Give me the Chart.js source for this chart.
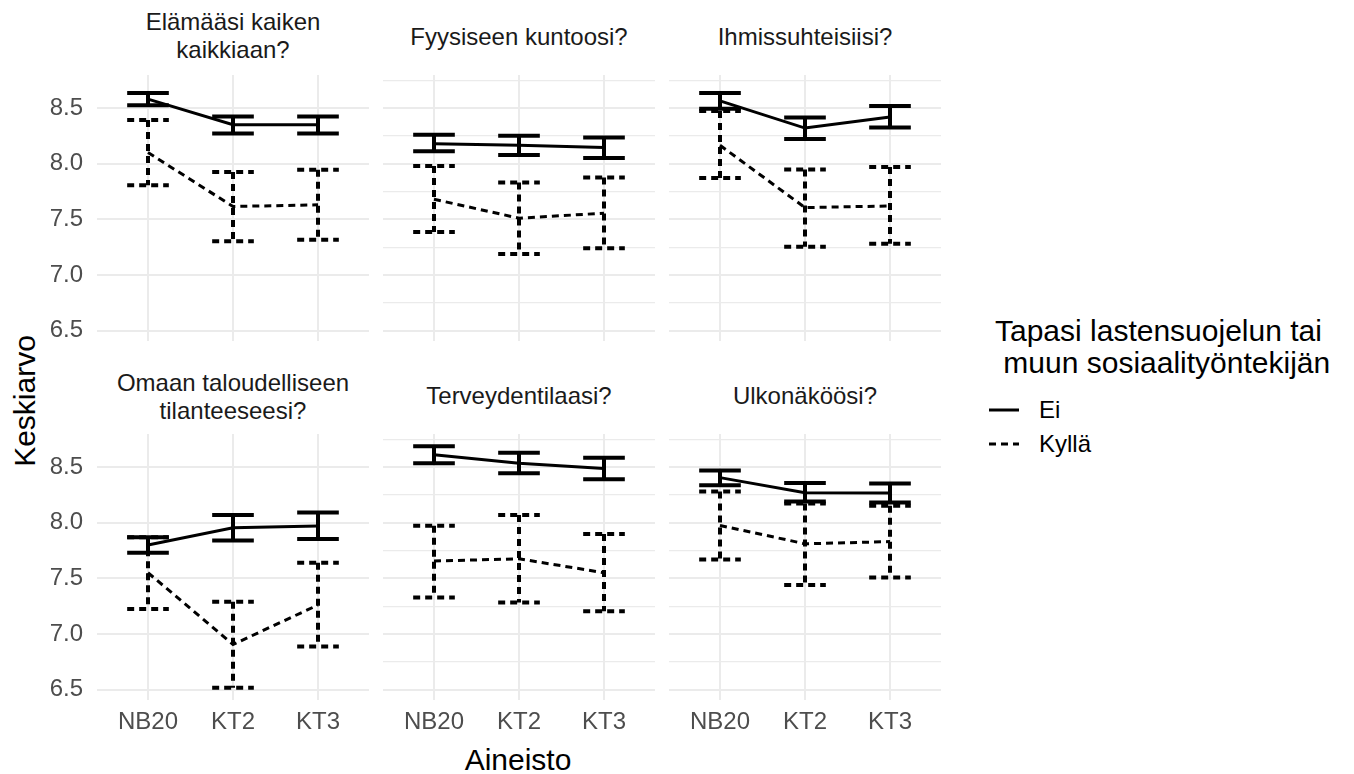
<!DOCTYPE html>
<html>
  <head>
    <meta charset="utf-8">
    <title>Keskiarvot aineistoittain</title>
    <style>
      body { margin: 0; background: #fff; font-family: "Liberation Sans", Arial, sans-serif; }
      #wrap { position: relative; width: 1354px; height: 774px; overflow: hidden; }
      canvas { position: absolute; }
      .strip { position: absolute; width: 272px; text-align: center; font-size: 24px; line-height: 28px; color: #1a1a1a; }
      .title { position: absolute; font-size: 30px; color: #000; white-space: pre; transform: translate(-50%, -50%); }
      .legtitle { position: absolute; left: 995px; top: 315px; font-size: 30px; line-height: 32px; color: #000; white-space: pre; }
      .legkey { position: absolute; left: 986px; }
      .leglab { position: absolute; left: 1039px; font-size: 24px; line-height: 28px; color: #000; }
    </style>
  </head>
  <body>
    <div id="wrap">
      <div class="title" style="left:518px; top:760px;">Aineisto</div>
      <div class="title" style="left:25px; top:401px; transform: translate(-50%, -50%) rotate(-90deg);">Keskiarvo</div>
      <div class="legtitle">Tapasi lastensuojelun tai
 muun sosiaalityöntekijän</div>
      <svg class="legkey" style="top:400px" width="40" height="20"><line x1="3" y1="10" x2="33" y2="10" stroke="#000" stroke-width="3"/></svg>
      <svg class="legkey" style="top:434px" width="40" height="20"><line x1="3" y1="10" x2="33" y2="10" stroke="#000" stroke-width="3" stroke-dasharray="7 5"/></svg>
      <div class="leglab" style="top:396px">Ei</div>
      <div class="leglab" style="top:430px">Kyllä</div>
    </div>

    <script src="https://cdn.jsdelivr.net/npm/chart.js@4.4.1/dist/chart.umd.min.js"></script>
    <script>
      // aineistot ja paneelit
      const categories = ["NB20", "KT2", "KT3"];
      const panelTitles = [
        ["Elämääsi kaiken", "kaikkiaan?"],
        ["Fyysiseen kuntoosi?"],
        ["Ihmissuhteisiisi?"],
        ["Omaan taloudelliseen", "tilanteeseesi?"],
        ["Terveydentilaasi?"],
        ["Ulkonäköösi?"],
      ];
      const groups = ["Ei", "Kyllä"];

      // Ei: keskiarvo ja luottamusväli
      const eiMean = [[8.58, 8.35, 8.35], [8.18, 8.165, 8.145], [8.565, 8.32, 8.42], [7.80, 7.955, 7.97], [8.61, 8.535, 8.487], [8.405, 8.27, 8.266]];
      const eiLow = [[8.524, 8.271, 8.271], [8.111, 8.079, 8.052], [8.494, 8.221, 8.325], [7.729, 7.839, 7.854], [8.533, 8.444, 8.39], [8.337, 8.19, 8.181]];
      const eiHigh = [[8.636, 8.423, 8.423], [8.26, 8.251, 8.236], [8.636, 8.414, 8.518], [7.869, 8.069, 8.092], [8.688, 8.628, 8.583], [8.47, 8.357, 8.351]];

      // Kyllä: keskiarvo ja luottamusväli
      const kyllaMean = [[8.10, 7.615, 7.63], [7.68, 7.51, 7.555], [8.165, 7.605, 7.62], [7.55, 6.905, 7.26], [7.655, 7.675, 7.55], [7.975, 7.81, 7.83]];
      const kyllaLow = [[7.806, 7.302, 7.317], [7.385, 7.189, 7.239], [7.871, 7.254, 7.281], [7.223, 6.515, 6.887], [7.328, 7.283, 7.203], [7.67, 7.44, 7.506]];
      const kyllaHigh = [[8.393, 7.924, 7.946], [7.978, 7.83, 7.875], [8.473, 7.948, 7.969], [7.87, 7.289, 7.64], [7.973, 8.069, 7.899], [8.28, 8.173, 8.152]];

      const yTicks = [6.5, 6.75, 7, 7.25, 7.5, 7.75, 8, 8.25, 8.5, 8.75];
      const yMin = 6.406, yMax = 8.797;

      const fontFamily = '"Liberation Sans", Arial, sans-serif';
      const plotLefts = [97, 383, 669];
      const plotTops = [75, 434];
      const plotW = 272, plotH = 266;
      const capHalf = 0.245;

      // virhepalkit piirretään skaalojen kautta
      const errorBars = {
        id: "errorBars",
        afterDatasetsDraw(chart) {
          const { ctx, scales: { x, y } } = chart;
          chart.data.datasets.forEach((ds) => {
            ctx.save();
            ctx.strokeStyle = "#000";
            ctx.lineWidth = 4;
            ctx.lineCap = "butt";
            ctx.setLineDash(ds.borderDash || []);
            const seg = (x1, y1, x2, y2) => {
              ctx.beginPath();
              ctx.moveTo(x1, y1);
              ctx.lineTo(x2, y2);
              ctx.stroke();
            };
            ds.low.forEach((lo, k) => {
              const hi = ds.high[k];
              const xc = x.getPixelForValue(k);
              const xl = x.getPixelForValue(k - capHalf);
              const xr = x.getPixelForValue(k + capHalf);
              const yl = y.getPixelForValue(lo);
              const yh = y.getPixelForValue(hi);
              seg(xl, yh, xr, yh);
              seg(xc, yh, xc, yl);
              seg(xl, yl, xr, yl);
            });
            ctx.restore();
          });
        },
      };

      const wrap = document.getElementById("wrap");

      panelTitles.forEach((title, i) => {
        const col = i % 3;
        const row = Math.floor(i / 3);
        const yAxisW = col === 0 ? 60 : 0;
        const xAxisH = row === 1 ? 46 : 0;

        // paneelin otsikko
        const strip = document.createElement("div");
        strip.className = "strip";
        strip.style.left = plotLefts[col] + "px";
        const centre = row === 0 ? (title.length > 1 ? 22 : 37) : (title.length > 1 ? 383 : 396);
        strip.style.top = centre - 14 + "px";
        strip.innerHTML = title.join("<br>");
        wrap.appendChild(strip);

        const canvas = document.createElement("canvas");
        canvas.width = plotW + yAxisW;
        canvas.height = plotH + xAxisH;
        canvas.style.left = plotLefts[col] - yAxisW + "px";
        canvas.style.top = plotTops[row] + "px";
        canvas.style.width = canvas.width + "px";
        canvas.style.height = canvas.height + "px";
        wrap.appendChild(canvas);

        const means = [eiMean[i], kyllaMean[i]];
        const lows = [eiLow[i], kyllaLow[i]];
        const highs = [eiHigh[i], kyllaHigh[i]];

        new Chart(canvas.getContext("2d"), {
          type: "line",
          data: {
            datasets: groups.map((g, gi) => ({
              label: g,
              data: categories.map((c, k) => ({ x: k, y: means[gi][k] })),
              low: lows[gi],
              high: highs[gi],
              borderColor: "#000",
              borderWidth: 3,
              borderDash: gi === 1 ? [7, 5] : [],
              pointRadius: 0,
              fill: false,
              tension: 0,
            })),
          },
          options: {
            responsive: false,
            animation: false,
            layout: { padding: 0 },
            plugins: { legend: { display: false }, tooltip: { enabled: false } },
            scales: {
              x: {
                type: "linear",
                min: -0.6,
                max: 2.6,
                afterBuildTicks: (s) => { s.ticks = categories.map((c, k) => ({ value: k })); },
                afterFit: (s) => {
                  s.height = xAxisH;
                  s.paddingLeft = 0;
                  s.paddingRight = 0;
                  s.paddingTop = 0;
                  s.paddingBottom = 0;
                },
                grid: { color: "#ebebeb", lineWidth: 2, drawTicks: false },
                border: { display: false },
                ticks: {
                  display: row === 1,
                  autoSkip: false,
                  maxRotation: 0,
                  padding: 8,
                  color: "#4d4d4d",
                  font: { size: 24, family: fontFamily },
                  callback: (v) => categories[v],
                },
              },
              y: {
                type: "linear",
                min: yMin,
                max: yMax,
                afterBuildTicks: (s) => { s.ticks = yTicks.map((v) => ({ value: v })); },
                afterFit: (s) => {
                  s.width = yAxisW;
                  s.paddingLeft = 0;
                  s.paddingRight = 0;
                  s.paddingTop = 0;
                  s.paddingBottom = 0;
                },
                grid: {
                  color: "#ebebeb",
                  drawTicks: false,
                  lineWidth: (c) => (c.tick && Math.abs(c.tick.value * 2 - Math.round(c.tick.value * 2)) < 1e-6 ? 2 : 1.2),
                },
                border: { display: false },
                ticks: {
                  display: col === 0,
                  padding: 14,
                  color: "#4d4d4d",
                  font: { size: 24, family: fontFamily },
                  callback: (v) => (Math.abs(v * 2 - Math.round(v * 2)) < 1e-6 ? v.toFixed(1) : ""),
                },
              },
            },
          },
          plugins: [errorBars],
        });
      });
    </script>
  </body>
</html>
